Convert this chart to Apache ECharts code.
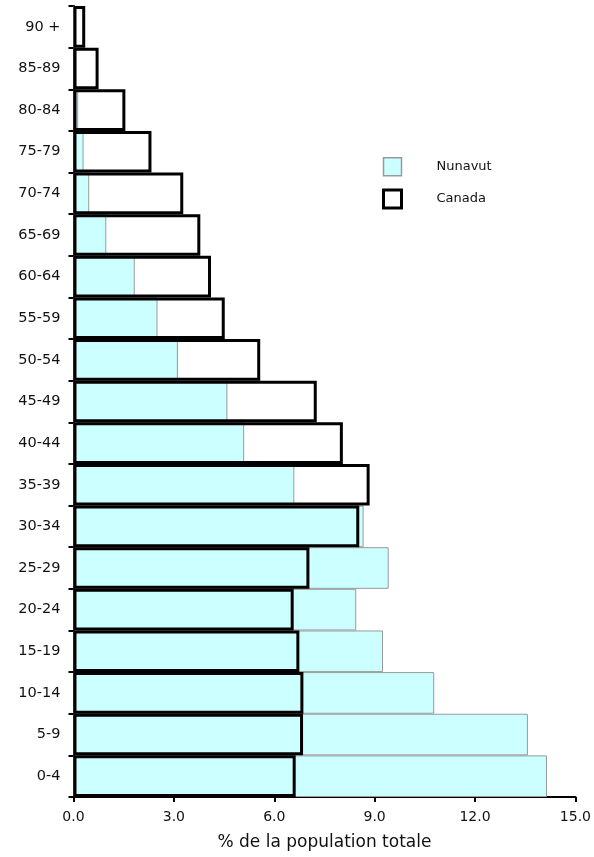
<!DOCTYPE html>
<html>
<head>
<meta charset="utf-8">
<script src="https://cdn.jsdelivr.net/npm/echarts@6/dist/echarts.min.js"></script>
<style>
html,body{margin:0;padding:0;background:#fff;}
#c{width:594px;height:857px;}
</style>
</head>
<body>
<div id="c"></div>
<script>
const ageGroups = ['0-4','5-9','10-14','15-19','20-24','25-29','30-34','35-39','40-44','45-49','50-54','55-59','60-64','65-69','70-74','75-79','80-84','85-89','90 +'];
const nunavut = [14.15,13.58,10.78,9.25,8.45,9.42,8.67,6.60,5.10,4.60,3.12,2.51,1.83,0.98,0.47,0.30,0.14,0.08,0.02];
const canada  = [6.64,6.86,6.87,6.75,6.58,7.05,8.54,8.85,8.05,7.27,5.58,4.52,4.11,3.79,3.28,2.33,1.55,0.75,0.35];
const xTicks = { min: 0, max: 15, interval: 3 };
const axisTitle = '% de la population totale';

const chart = echarts.init(document.getElementById('c'), null, {renderer:'canvas'});
const font = 'DejaVu Sans, sans-serif';
chart.setOption({
  animation: false,
  backgroundColor: '#fff',
  textStyle: { fontFamily: font },
  grid: { left: 73.5, right: 17, top: 6, bottom: 60, containLabel: false },
  legend: {
    orient: 'vertical',
    left: 382,
    top: 157,
    padding: 0,
    itemWidth: 18,
    itemHeight: 18,
    itemGap: 12,
    icon: 'rect',
    textStyle: { fontFamily: font, fontSize: 13, color: '#111', padding: [0,0,0,30] },
    data: [
      { name: 'Nunavut', itemStyle: { color: '#ccffff', borderColor: '#999', borderWidth: 1.5 } },
      { name: 'Canada', itemStyle: { color: '#fff', borderColor: '#000', borderWidth: 3 } }
    ]
  },
  xAxis: {
    type: 'value',
    min: xTicks.min, max: xTicks.max, interval: xTicks.interval,
    splitLine: { show: false },
    axisLine: { show: true, lineStyle: { color: '#000', width: 2 } },
    axisTick: { show: true, length: 5, lineStyle: { color: '#000', width: 2 } },
    axisLabel: { color: '#111', fontSize: 14, margin: 13, formatter: v => v.toFixed(1) },
    name: axisTitle,
    nameLocation: 'middle',
    nameGap: 37,
    nameTextStyle: { color: '#111', fontSize: 17 }
  },
  yAxis: {
    type: 'category',
    data: ageGroups,
    axisLine: { show: true, lineStyle: { color: '#000', width: 2 } },
    axisTick: { show: true, length: 5, alignWithLabel: false, lineStyle: { color: '#000', width: 2 } },
    axisLabel: { color: '#111', fontSize: 14.5, margin: 13 }
  },
  series: [
    {
      name: 'Nunavut', type: 'bar', data: nunavut,
      barWidth: '100%', barGap: '-100%', barCategoryGap: 0,
      itemStyle: { color: '#ccffff', borderColor: '#999', borderWidth: 1 },
      z: 2
    },
    {
      name: 'Canada', type: 'bar', data: canada,
      barWidth: '100%', barGap: '-100%', barCategoryGap: 0,
      itemStyle: { color: 'rgba(0,0,0,0)', borderColor: '#000', borderWidth: 3 },
      z: 3
    }
  ]
});
</script>
</body>
</html>
